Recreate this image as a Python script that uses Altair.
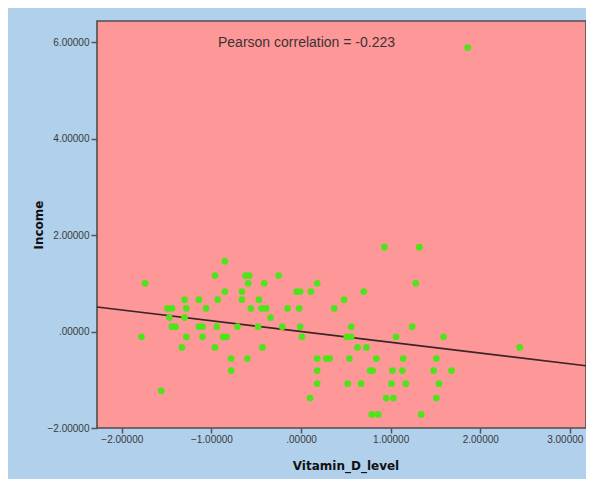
import altair as alt
import pandas as pd

# ---- data ----
vitamin_d = [
    -0.85, -0.96, -1.74, -0.85, -1.30, -1.14, -0.93, -1.49, -1.44, -1.28,
    -1.06, -1.47, -1.30, -1.44, -1.40, -1.14, -1.10, -0.94, -1.78, -1.28,
    -1.10, -0.87, -0.83, -1.33, -0.96, -0.78, -1.56, -0.62, -0.58, -0.25,
    -0.59, -0.41, 0.18, -0.66, -0.05, -0.01, 0.11, -0.66, -0.47, -0.56,
    -0.44, -0.39, -0.15, -0.02, -0.34, -0.71, -0.48, -0.21, -0.01, 0.01,
    -0.43, -0.60, 0.18, 0.28, 0.32, -0.78, 0.18, 0.18, 0.10, 0.93,
    0.70, 0.48, 0.37, 0.56, 0.51, 0.56, 1.06, 0.63, 0.73, 0.54,
    0.84, 1.14, 0.77, 0.80, 1.02, 1.13, 0.52, 0.67, 1.01, 1.17,
    0.95, 1.03, 0.79, 0.86, 1.32, 1.28, 1.24, 1.59, 2.44, 1.51,
    1.48, 1.68, 1.54, 1.51, 1.34, 1.86,
]
income = [
    1.46, 1.16, 1.00, 0.83, 0.66, 0.66, 0.66, 0.48, 0.48, 0.48,
    0.48, 0.29, 0.29, 0.10, 0.10, 0.10, 0.10, 0.10, -0.11, -0.11,
    -0.11, -0.11, -0.11, -0.33, -0.33, -0.56, -1.23, 1.16, 1.16, 1.16,
    1.00, 1.00, 1.00, 0.83, 0.83, 0.83, 0.83, 0.66, 0.66, 0.48,
    0.48, 0.48, 0.48, 0.48, 0.29, 0.10, 0.10, 0.10, 0.10, -0.11,
    -0.33, -0.56, -0.56, -0.56, -0.56, -0.81, -0.81, -1.08, -1.38, 1.75,
    0.83, 0.66, 0.48, 0.10, -0.11, -0.11, -0.11, -0.33, -0.33, -0.56,
    -0.56, -0.56, -0.81, -0.81, -0.81, -0.81, -1.08, -1.08, -1.08, -1.08,
    -1.38, -1.38, -1.72, -1.72, 1.75, 1.00, 0.10, -0.11, -0.33, -0.56,
    -0.81, -0.81, -1.08, -1.38, -1.72, 5.89,
]
x_ticks = [-2, -1, 0, 1, 2, 3]
y_ticks = [-2, 0, 2, 4, 6]
x_domain = [-2.277, 3.18]
y_domain = [-2.0, 6.44]
pearson_r = -0.223          # standardized variables: fit line slope = r
annotation = ["Pearson correlation = -0.223"]

df = pd.DataFrame({"Vitamin_D_level": vitamin_d, "Income": income})
fit_df = pd.DataFrame({
    "Vitamin_D_level": x_domain,
    "Income": [pearson_r * v for v in x_domain],
})

label_expr = "datum.value == 0 ? '.00000' : format(datum.value, '.5f')"

common_axis = dict(
    grid=False,
    domain=False,
    labelExpr=label_expr,
    labelFont="Liberation Sans",
    labelFontSize=10,
    labelColor="#3a3a3a",
    tickColor="#555555",
    tickWidth=1.5,
    titleFont="DejaVu Sans",
    titleFontSize=12,
    titleFontWeight="bold",
    titleColor="#111111",
)

x_axis = alt.Axis(
    values=x_ticks, tickSize=5, labelPadding=1,
    labelFlush=20, labelFlushOffset=13,
    titleX=248.5, titleY=37, titleAlign="center", titleBaseline="middle",
    **common_axis,
)
y_axis = alt.Axis(
    values=y_ticks, tickSize=6, labelPadding=2,
    titleX=-59, titleY=203.5, titleAngle=270, titleAlign="center",
    titleBaseline="middle",
    **common_axis,
)

x_enc = alt.X("Vitamin_D_level:Q",
              scale=alt.Scale(domain=x_domain, nice=False, zero=False),
              axis=x_axis, title="Vitamin_D_level")
y_enc = alt.Y("Income:Q",
              scale=alt.Scale(domain=y_domain, nice=False, zero=False),
              axis=y_axis, title="Income")

points = alt.Chart(df).mark_point(
    filled=True, shape="circle", size=46, color="#4fe31c", opacity=1
).encode(x=x_enc, y=y_enc)

fit = alt.Chart(fit_df).mark_line(
    color="#3a2424", strokeWidth=1.6
).encode(x=x_enc, y=y_enc)

label = alt.Chart(pd.DataFrame({"label": annotation})).mark_text(
    align="left", baseline="middle", font="Liberation Sans", fontSize=14,
    color="#3b3333"
).encode(text="label:N", x=alt.value(121), y=alt.value(22))

chart = alt.layer(fit, points, label).properties(
    width=489,
    height=407,
    autosize=alt.AutoSizeParams(type="none"),
    padding={"left": 89, "top": 13, "right": 0, "bottom": 51},
    background="#b0d0ec",
).configure_view(
    fill="#fe9898", stroke="#4d4d4d", strokeWidth=1.6
)

chart.save("out.html", embed_options={"renderer": "svg", "actions": False})
